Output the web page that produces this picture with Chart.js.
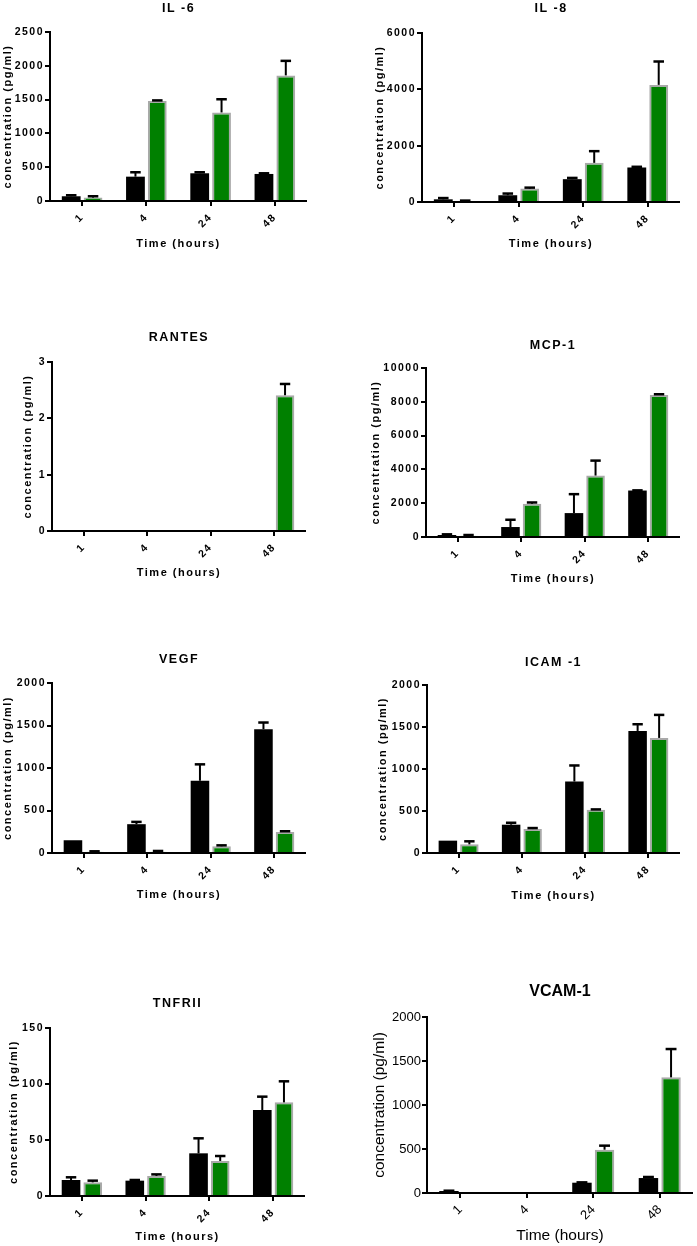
<!DOCTYPE html>
<html>
<head>
<meta charset="utf-8">
<script src="https://cdn.jsdelivr.net/npm/chart.js@4.4.1/dist/chart.umd.min.js"></script>
<style>
  html, body { margin: 0; padding: 0; background: #fff; }
  body { width: 697px; height: 1246px; position: relative; overflow: hidden; }
  canvas { position: absolute; }
</style>
</head>
<body>
<script>
// x categories (time in hours)
const hours = ['1', '4', '24', '48'];

// values: black = control, green = treated, *Err = upper error bar
const il6Ctrl = [70, 360, 410, 400];
const il6CtrlErr = [15, 65, 15, 10];
const il6Trt = [50, 1480, 1310, 1858];
const il6TrtErr = [20, 8, 195, 215];

const il8Ctrl = [95, 240, 810, 1225];
const il8CtrlErr = [45, 60, 45, 25];
const il8Trt = [35, 475, 1390, 4158];
const il8TrtErr = [15, 35, 415, 830];

const rantesCtrl = [0, 0, 0, 0];
const rantesCtrlErr = [0, 0, 0, 0];
const rantesTrt = [0, 0, 0, 2.41];
const rantesTrtErr = [0, 0, 0, 0.2];

const mcp1Ctrl = [118, 590, 1415, 2750];
const mcp1CtrlErr = [40, 430, 1120, 10];
const mcp1Trt = [80, 1965, 3635, 8408];
const mcp1TrtErr = [38, 78, 885, 40];

const vegfCtrl = [150, 339, 850, 1457];
const vegfCtrlErr = [0, 27, 193, 78];
const vegfTrt = [15, 16, 79, 248];
const vegfTrtErr = [5, 8, 11, 8];

const icamCtrl = [147, 337, 851, 1453];
const icamCtrlErr = [0, 23, 191, 80];
const icamTrt = [103, 285, 515, 1370];
const icamTrtErr = [36, 12, 4, 274];

const tnfCtrl = [14.3, 13.7, 38.1, 76.8];
const tnfCtrlErr = [2.4, 0.6, 13.4, 11.9];
const tnfTrt = [12.2, 17.9, 31.3, 83.6];
const tnfTrtErr = [1.5, 1.4, 4.4, 18.8];

const vcamCtrl = [23, 8, 117, 170];
const vcamCtrlErr = [3, 0, 4, 12];
const vcamTrt = [0, 10, 492, 1314];
const vcamTrtErr = [0, 0, 46, 322];

Chart.defaults.font.family = '"Liberation Sans", Arial, sans-serif';
Chart.defaults.color = '#000';

const spaced = { tick: 10.5, tickWeight: 'bold', axis: 11, axisWeight: 'bold', title: 12.5, spacing: '1.5px', xPad: 5 };
const plain = { tick: 13, tickWeight: 'normal', axis: 15.5, axisWeight: 'normal', title: 16, spacing: '0px', xPad: 4 };

// chart area edges (L,R,T,B) and text centres, in page pixels
const panels = [
  { title: 'IL -6', ctrl: il6Ctrl, ctrlErr: il6CtrlErr, trt: il6Trt, trtErr: il6TrtErr, max: 2500, step: 500,
    L: 50, R: 307, T: 32, B: 201, titleY: 8, yTitleX: 8, xTitleY: 244, st: spaced },
  { title: 'IL -8', ctrl: il8Ctrl, ctrlErr: il8CtrlErr, trt: il8Trt, trtErr: il8TrtErr, max: 6000, step: 2000,
    L: 422, R: 680, T: 33, B: 202, titleY: 8, yTitleX: 380, xTitleY: 244, st: spaced },
  { title: 'RANTES', ctrl: rantesCtrl, ctrlErr: rantesCtrlErr, trt: rantesTrt, trtErr: rantesTrtErr, max: 3, step: 1,
    L: 52, R: 306, T: 362, B: 531, titleY: 337, yTitleX: 28, xTitleY: 573, st: spaced },
  { title: 'MCP-1', ctrl: mcp1Ctrl, ctrlErr: mcp1CtrlErr, trt: mcp1Trt, trtErr: mcp1TrtErr, max: 10000, step: 2000,
    L: 426, R: 680, T: 368, B: 537, titleY: 345, yTitleX: 376, xTitleY: 579, st: spaced },
  { title: 'VEGF', ctrl: vegfCtrl, ctrlErr: vegfCtrlErr, trt: vegfTrt, trtErr: vegfTrtErr, max: 2000, step: 500,
    L: 52, R: 306, T: 683, B: 853, titleY: 659, yTitleX: 8, xTitleY: 895, st: spaced },
  { title: 'ICAM -1', ctrl: icamCtrl, ctrlErr: icamCtrlErr, trt: icamTrt, trtErr: icamTrtErr, max: 2000, step: 500,
    L: 427, R: 680, T: 685, B: 853, titleY: 662, yTitleX: 383, xTitleY: 896, st: spaced },
  { title: 'TNFRII', ctrl: tnfCtrl, ctrlErr: tnfCtrlErr, trt: tnfTrt, trtErr: tnfTrtErr, max: 150, step: 50,
    L: 50, R: 305, T: 1028, B: 1196, titleY: 1003, yTitleX: 14, xTitleY: 1237, st: spaced },
  { title: 'VCAM-1', ctrl: vcamCtrl, ctrlErr: vcamCtrlErr, trt: vcamTrt, trtErr: vcamTrtErr, max: 2000, step: 500,
    L: 427, R: 693, T: 1017, B: 1193, titleY: 992, yTitleX: 379, xTitleY: 1236, st: plain }
];

// canvas state is reset on resize, so set letter spacing before measuring and before drawing
const spacingPlugin = {
  id: 'spacing',
  beforeLayout(chart, args, opts) { chart.ctx.letterSpacing = opts.value || '0px'; },
  beforeDraw(chart, args, opts) { chart.ctx.letterSpacing = opts.value || '0px'; }
};

// upward error bars with a cap
const errorBarPlugin = {
  id: 'errorBars',
  afterDatasetsDraw(chart) {
    const ctx = chart.ctx, y = chart.scales.y;
    chart.data.datasets.forEach((ds, i) => {
      chart.getDatasetMeta(i).data.forEach((bar, j) => {
        const err = ds.errors[j];
        if (!err) return;
        const top = y.getPixelForValue(ds.data[j] + err);
        const half = bar.width * 0.28;
        ctx.save();
        ctx.strokeStyle = '#000';
        ctx.lineWidth = 2;
        ctx.beginPath();
        ctx.moveTo(bar.x, bar.y);
        ctx.lineTo(bar.x, top);
        ctx.stroke();
        ctx.lineWidth = 2.5;
        ctx.beginPath();
        ctx.moveTo(bar.x - half, top);
        ctx.lineTo(bar.x + half, top);
        ctx.stroke();
        ctx.restore();
      });
    });
  }
};

panels.forEach(p => {
  const st = p.st;
  const tlh = st.title * 1.2, alh = st.axis * 1.2;
  const left = Math.round(p.yTitleX - 2 - alh / 2);
  const top = Math.round(p.titleY - tlh / 2);
  const bottom = Math.round(p.xTitleY + 2 + alh / 2);
  const yw = p.L - left;
  const xh = bottom - p.B;
  const padTop = Math.max(p.titleY - tlh / 2 - top, 0);
  const padBottom = p.T - top - tlh - padTop;

  const canvas = document.createElement('canvas');
  canvas.width = p.R - left;
  canvas.height = bottom - top;
  canvas.style.left = left + 'px';
  canvas.style.top = top + 'px';
  document.body.appendChild(canvas);

  const tickFont = { size: st.tick, weight: st.tickWeight };
  const axisFont = { size: st.axis, weight: st.axisWeight };

  new Chart(canvas, {
    type: 'bar',
    data: {
      labels: hours,
      datasets: [
        { label: 'Control', data: p.ctrl, errors: p.ctrlErr, backgroundColor: '#000', borderWidth: 0 },
        { label: 'Treated', data: p.trt, errors: p.trtErr, backgroundColor: '#008000', borderColor: '#a9a9a9', borderWidth: 2 }
      ]
    },
    options: {
      responsive: false,
      animation: false,
      layout: { padding: 0 },
      datasets: { bar: { categoryPercentage: 0.68, barPercentage: 0.86 } },
      plugins: {
        legend: { display: false },
        tooltip: { enabled: false },
        title: {
          display: true, text: p.title, fullSize: false, color: '#000',
          font: { size: st.title, weight: 'bold' },
          padding: { top: padTop, bottom: padBottom }
        },
        spacing: { value: st.spacing }
      },
      scales: {
        x: {
          grid: { offset: false, drawOnChartArea: false, color: '#000', lineWidth: 2, tickLength: 5 },
          border: { color: '#000', width: 2 },
          ticks: { minRotation: 45, maxRotation: 45, autoSkip: false, font: tickFont, color: '#000', padding: st.xPad },
          title: { display: true, text: 'Time (hours)', font: axisFont, color: '#000', padding: { top: 2, bottom: 2 } },
          afterFit: s => { s.height = xh; }
        },
        y: {
          min: 0, max: p.max,
          grid: { drawOnChartArea: false, color: '#000', lineWidth: 2, tickLength: 5 },
          border: { color: '#000', width: 2 },
          ticks: { stepSize: p.step, callback: v => String(v), font: tickFont, color: '#000', padding: 1 },
          title: { display: true, text: 'concentration (pg/ml)', font: axisFont, color: '#000', padding: { top: 2, bottom: 2 } },
          afterFit: s => { s.width = yw; }
        }
      }
    },
    plugins: [spacingPlugin, errorBarPlugin]
  });
});
</script>
</body>
</html>
